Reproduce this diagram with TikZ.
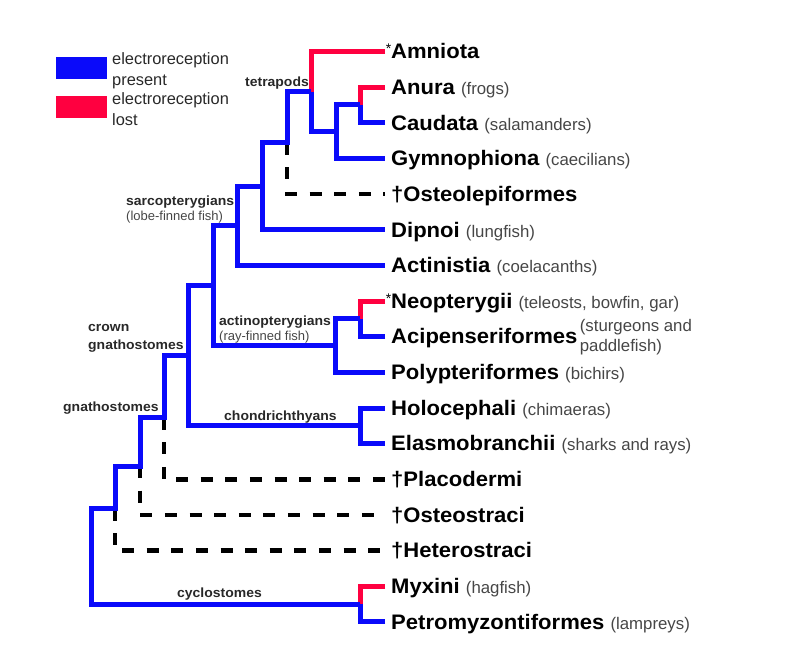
\documentclass[tikz,border=0pt]{standalone}
\usepackage{fontspec}
\setmainfont{Liberation Sans}[BoldFeatures={FakeStretch=1.05}]
\definecolor{erblue}{RGB}{10,10,250}
\definecolor{erred}{RGB}{255,0,64}
\definecolor{inkgray}{RGB}{40,40,40}
\definecolor{subgray}{RGB}{70,70,70}
\newcommand{\cmn}[1]{{\fontsize{16.8}{19}\selectfont\mdseries\color{subgray}#1}}
\newcommand{\starmark}{\llap{\raisebox{5pt}{\fontsize{14}{14}\selectfont\mdseries *}}}
\tikzset{
  br/.style={line width=5pt, erblue},
  lost/.style={line width=5pt, erred},
  fossil/.style={line width=4.5pt, black, dash pattern=on 12pt off 12.6pt},
  tip/.style={anchor=west, inner xsep=6pt, inner ysep=0pt, text height=14.5pt,
    text depth=0pt, font=\fontsize{21}{23}\selectfont\bfseries},
  clade/.style={anchor=west, inner sep=0pt, align=left, text=inkgray,
    font=\fontsize{13.3}{18}\selectfont\bfseries},
  sub/.style={anchor=west, inner sep=0pt, text=subgray,
    font=\fontsize{13}{15}\selectfont},
  keybox/.style={minimum width=51pt, minimum height=22pt, inner sep=0pt},
  keytext/.style={anchor=west, inner sep=0pt, align=left, text=inkgray,
    font=\fontsize{16.4}{21}\selectfont}
}
\begin{document}
\begin{tikzpicture}[x=1pt,y=-35.65pt]
  \useasboundingbox (0pt,51.5pt) rectangle (800pt,-602.5pt);
  % legend
  \node[keybox, fill=erblue] (keyon) at (81.5,0.46) {};
  \node[keybox, fill=erred] (keyoff) at (81.5,1.56) {};
  \node[keytext] (keyontext) at (112,0.53) {electroreception\\present};
  \node[keytext] (keyofftext) at (112,1.63) {electroreception\\lost};
  % taxa at the tips, one row each
  \foreach \i/\nm/\lab in {
    0/amniota/{\starmark Amniota},
    1/anura/{Anura \cmn{(frogs)}},
    2/caudata/{Caudata \cmn{(salamanders)}},
    3/gymno/{Gymnophiona \cmn{(caecilians)}},
    4/osteol/{†Osteolepiformes},
    5/dipnoi/{Dipnoi \cmn{(lungfish)}},
    6/actin/{Actinistia \cmn{(coelacanths)}},
    7/neopt/{\starmark Neopterygii \cmn{(teleosts, bowfin, gar)}},
    8/acip/{Acipenseriformes},
    9/polyp/{Polypteriformes \cmn{(bichirs)}},
    10/holoc/{Holocephali \cmn{(chimaeras)}},
    11/elasmo/{Elasmobranchii \cmn{(sharks and rays)}},
    12/placo/{†Placodermi},
    13/osteos/{†Osteostraci},
    14/hetero/{†Heterostraci},
    15/myxini/{Myxini \cmn{(hagfish)}},
    16/petro/{Petromyzontiformes \cmn{(lampreys)}}}{
    \node[tip] (\nm) at (385,\i) {\lab};
  }
  \node[anchor=west, inner sep=0pt, align=left, text=subgray,
    font=\fontsize{16.8}{20}\selectfont] (acipnote) at ([xshift=-4pt]acip.east) {(sturgeons and\\paddlefish)};
  % branch points
  \coordinate (batr) at (360,1.5);
  \coordinate (amph) at (336,2.25);
  \coordinate (tetr) at (311,1.125);
  \coordinate (tetm) at (287,2.5625);
  \coordinate (rhip) at (262,3.78);
  \coordinate (sarc) at (237,4.89);
  \coordinate (oste) at (213,6.57);
  \coordinate (acti) at (360,7.5);
  \coordinate (actp) at (335,8.25);
  \coordinate (crown) at (188,8.535);
  \coordinate (chon) at (360,10.5);
  \coordinate (plac) at (164,10.27);
  \coordinate (ostc) at (140,11.63);
  \coordinate (hetn) at (115,12.82);
  \coordinate (root) at (91,14.16);
  \coordinate (cycl) at (360,15.5);
  % extinct groups
  \draw[fossil] (tetm) |- (osteol.west);
  \draw[fossil] (plac) |- (placo.west);
  \draw[fossil] (ostc) |- (osteos.west);
  \draw[fossil] (hetn) |- (hetero.west);
  % lost electroreception
  \draw[lost] (amniota.west) -| (tetr);
  \draw[lost] (anura.west) -| (batr);
  \draw[lost] (neopt.west) -| (acti);
  \draw[lost] (myxini.west) -| (cycl);
  % backbone
  \draw[br] (tetr) -| (tetm) -| (rhip) -| (sarc) -| (oste) -| (crown)
    -| (plac) -| (ostc) -| (hetn) -| (root) |- (cycl);
  % side branches
  \draw[br] (tetr) |- (amph);
  \draw[br] (caudata.west) -| (batr);
  \draw[br] (batr) -| (amph) |- (gymno.west);
  \draw[br] (rhip) |- (dipnoi.west);
  \draw[br] (sarc) |- (actin.west);
  \draw[br] (oste) |- (actp);
  \draw[br] (acip.west) -| (acti);
  \draw[br] (acti) -| (actp) |- (polyp.west);
  \draw[br] (crown) |- (chon);
  \draw[br] (holoc.west) -| (chon) |- (elasmo.west);
  \draw[br] (petro.west) -| (cycl);
  % clade names
  \node[clade] (tetlab) at (245,0.884) {tetrapods};
  \node[clade] (sarclab) at (126,4.22) {sarcopterygians};
  \node[sub] (sarcsub) at (126,4.64) {(lobe-finned fish)};
  \node[clade] (crownlab) at (88,8.04) {crown\\gnathostomes};
  \node[clade] (actlab) at (219,7.59) {actinopterygians};
  \node[sub] (actsub) at (219,8.01) {(ray-finned fish)};
  \node[clade] (gnathlab) at (63,10.0) {gnathostomes};
  \node[clade] (chonlab) at (224,10.25) {chondrichthyans};
  \node[clade] (cyclab) at (177,15.22) {cyclostomes};
\end{tikzpicture}
\end{document}
